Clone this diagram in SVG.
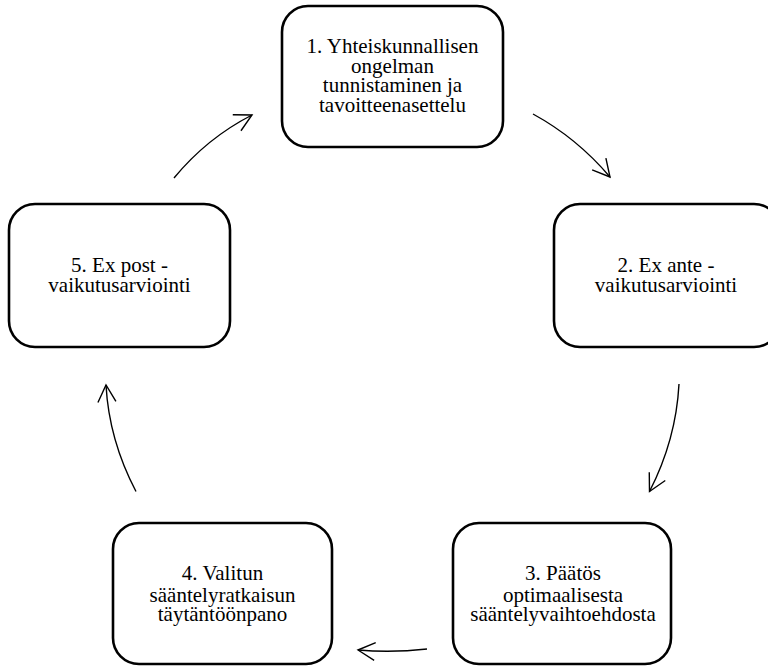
<svg xmlns="http://www.w3.org/2000/svg" width="768" height="667" viewBox="0 0 768 667">
<style>
.box{fill:#fff;stroke:#000;stroke-width:2.6}
.t{font-family:"Liberation Serif","Times New Roman",serif;font-size:21px;fill:#000;text-anchor:middle}
.c{fill:none;stroke:#000;stroke-width:1.4}
</style>
<defs>
<marker id="ah" markerUnits="userSpaceOnUse" markerWidth="22" markerHeight="22" viewBox="0 0 22 22" refX="19" refY="11" orient="auto">
<path d="M2,2 L19,11 L2,20" fill="none" stroke="#000" stroke-width="1.4"/>
</marker>
</defs>
<rect width="768" height="667" fill="#fff"/>
<g id="connectors">
<path class="c" d="M533,114 Q577,138 610,177" marker-end="url(#ah)"/>
<path class="c" d="M679,384 Q676,440 649.5,491.5" marker-end="url(#ah)"/>
<path class="c" d="M427,649 Q392,653 358,650" marker-end="url(#ah)"/>
<path class="c" d="M136,491.5 Q109,440 106,385" marker-end="url(#ah)"/>
<path class="c" d="M174,178 Q207,138 252,115" marker-end="url(#ah)"/>
</g>
<g id="n1">
<rect class="box" x="282" y="6" width="221" height="141" rx="26"/>
<text class="t" x="392.5" y="53.3">1. Yhteiskunnallisen</text>
<text class="t" x="392.5" y="72.7">ongelman</text>
<text class="t" x="392.5" y="92.3">tunnistaminen ja</text>
<text class="t" x="392.5" y="111.7">tavoitteenasettelu</text>
</g>
<g id="n2">
<rect class="box" x="554" y="204" width="226" height="143" rx="26"/>
<text class="t" x="666" y="271.7">2. Ex ante -</text>
<text class="t" x="666" y="291.7">vaikutusarviointi</text>
</g>
<g id="n3">
<rect class="box" x="453" y="523" width="218" height="141" rx="26"/>
<text class="t" x="563" y="580">3. Päätös</text>
<text class="t" x="563" y="601.7">optimaalisesta</text>
<text class="t" x="563" y="621">sääntelyvaihtoehdosta</text>
</g>
<g id="n4">
<rect class="box" x="113" y="523" width="219" height="141" rx="26"/>
<text class="t" x="222.5" y="580">4. Valitun</text>
<text class="t" x="222.5" y="601.7">sääntelyratkaisun</text>
<text class="t" x="222.5" y="621">täytäntöönpano</text>
</g>
<g id="n5">
<rect class="box" x="9" y="204" width="221" height="143" rx="26"/>
<text class="t" x="119.5" y="271.7">5. Ex post -</text>
<text class="t" x="119.5" y="291.7">vaikutusarviointi</text>
</g>
</svg>
